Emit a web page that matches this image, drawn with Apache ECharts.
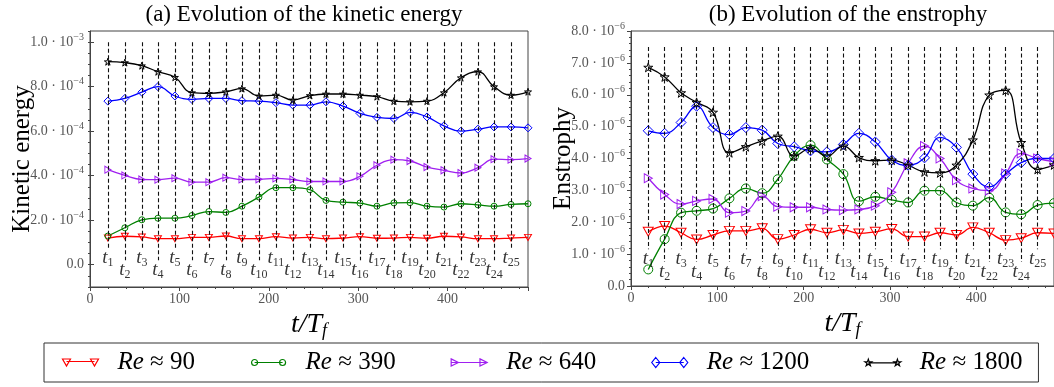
<!DOCTYPE html>
<html>
<head>
<meta charset="utf-8">
<script src="https://cdn.jsdelivr.net/npm/echarts@6/dist/echarts.min.js"></script>
<style>
  html, body { margin: 0; padding: 0; background: #fff; }
  #chart { width: 1054px; height: 387px; }
</style>
</head>
<body>
<div id="chart"></div>
<script>
// sampling instants (t / T_f); the first 25 are the marked snapshots t1..t25
let times = [20, 39, 58, 76, 95, 114, 133, 152, 170, 189, 208, 227, 246, 264, 283, 302, 321, 340, 358, 377, 396, 415, 434, 452, 471, 490];

// (a) kinetic energy
let keRe90 = [1.20e-4, 1.28e-4, 1.25e-4, 1.17e-4, 1.17e-4, 1.23e-4, 1.23e-4, 1.29e-4, 1.17e-4, 1.17e-4, 1.26e-4, 1.20e-4, 1.23e-4, 1.17e-4, 1.20e-4, 1.26e-4, 1.19e-4, 1.20e-4, 1.23e-4, 1.19e-4, 1.28e-4, 1.25e-4, 1.17e-4, 1.17e-4, 1.20e-4, 1.23e-4];
let keRe390 = [1.29e-4, 1.66e-4, 2.02e-4, 2.09e-4, 2.09e-4, 2.21e-4, 2.39e-4, 2.35e-4, 2.63e-4, 3.04e-4, 3.46e-4, 3.46e-4, 3.37e-4, 2.89e-4, 2.81e-4, 2.77e-4, 2.63e-4, 2.78e-4, 2.79e-4, 2.63e-4, 2.59e-4, 2.74e-4, 2.69e-4, 2.63e-4, 2.71e-4, 2.74e-4];
let keRe640 = [4.27e-4, 4.01e-4, 3.83e-4, 3.82e-4, 3.89e-4, 3.71e-4, 3.71e-4, 3.91e-4, 3.83e-4, 3.84e-4, 3.88e-4, 3.83e-4, 3.74e-4, 3.74e-4, 3.74e-4, 3.97e-4, 4.47e-4, 4.72e-4, 4.66e-4, 4.39e-4, 4.24e-4, 4.12e-4, 4.36e-4, 4.74e-4, 4.72e-4, 4.77e-4];
let keRe1200 = [7.35e-4, 7.47e-4, 7.75e-4, 8.00e-4, 7.58e-4, 7.43e-4, 7.47e-4, 7.47e-4, 7.37e-4, 7.35e-4, 7.28e-4, 7.17e-4, 7.17e-4, 7.32e-4, 7.13e-4, 6.80e-4, 6.62e-4, 6.57e-4, 6.84e-4, 6.64e-4, 6.24e-4, 6.00e-4, 6.09e-4, 6.19e-4, 6.19e-4, 6.15e-4];
let keRe1800 = [9.12e-4, 9.08e-4, 8.94e-4, 8.67e-4, 8.42e-4, 7.73e-4, 7.70e-4, 7.77e-4, 7.91e-4, 7.58e-4, 7.62e-4, 7.40e-4, 7.60e-4, 7.67e-4, 7.67e-4, 7.62e-4, 7.55e-4, 7.35e-4, 7.32e-4, 7.35e-4, 7.73e-4, 8.40e-4, 8.67e-4, 8.00e-4, 7.62e-4, 7.77e-4];

// (b) enstrophy
let enRe90 = [1.70e-6, 1.88e-6, 1.67e-6, 1.46e-6, 1.60e-6, 1.73e-6, 1.73e-6, 1.81e-6, 1.47e-6, 1.60e-6, 1.78e-6, 1.67e-6, 1.76e-6, 1.65e-6, 1.70e-6, 1.79e-6, 1.55e-6, 1.55e-6, 1.67e-6, 1.60e-6, 1.84e-6, 1.67e-6, 1.44e-6, 1.50e-6, 1.67e-6, 1.65e-6];
let enRe390 = [0.52e-6, 1.47e-6, 2.30e-6, 2.36e-6, 2.43e-6, 2.75e-6, 3.06e-6, 2.91e-6, 3.35e-6, 4.08e-6, 4.42e-6, 3.97e-6, 3.51e-6, 2.66e-6, 2.80e-6, 2.70e-6, 2.62e-6, 2.99e-6, 2.99e-6, 2.62e-6, 2.52e-6, 2.77e-6, 2.31e-6, 2.25e-6, 2.54e-6, 2.60e-6];
let enRe640 = [3.38e-6, 2.87e-6, 2.57e-6, 2.67e-6, 2.73e-6, 2.30e-6, 2.35e-6, 2.82e-6, 2.49e-6, 2.47e-6, 2.47e-6, 2.40e-6, 2.38e-6, 2.40e-6, 2.52e-6, 2.94e-6, 3.85e-6, 4.39e-6, 4.00e-6, 3.32e-6, 3.06e-6, 2.99e-6, 3.53e-6, 4.16e-6, 4.00e-6, 3.90e-6];
let enRe1200 = [4.87e-6, 4.79e-6, 5.13e-6, 5.64e-6, 4.97e-6, 4.75e-6, 4.97e-6, 4.89e-6, 4.47e-6, 4.37e-6, 4.24e-6, 4.21e-6, 4.44e-6, 4.79e-6, 4.52e-6, 3.95e-6, 3.79e-6, 4.02e-6, 4.66e-6, 4.35e-6, 3.51e-6, 3.11e-6, 3.51e-6, 3.87e-6, 4.00e-6, 4.00e-6];
let enRe1800 = [6.86e-6, 6.56e-6, 6.06e-6, 5.76e-6, 5.45e-6, 4.18e-6, 4.37e-6, 4.55e-6, 4.70e-6, 4.08e-6, 4.32e-6, 4.08e-6, 4.39e-6, 4.03e-6, 3.93e-6, 3.95e-6, 3.79e-6, 3.58e-6, 3.55e-6, 3.79e-6, 4.58e-6, 5.99e-6, 6.14e-6, 4.50e-6, 3.66e-6, 3.80e-6];

let keTicks = [0, 2e-4, 4e-4, 6e-4, 8e-4, 1e-3];

const FONT = "'Liberation Serif', 'DejaVu Serif', serif";
const AX = "#444";

// marker shapes
const TRI_DOWN = "path://M0,0 L10,0 L5,8.66 Z";
const TRI_RIGHT = "path://M0,0 L8.66,5 L0,10 Z";
const STAR = "path://M10,0 L12.245,6.91 L19.51,6.91 L13.63,11.18 L15.88,18.09 L10,13.82 L4.12,18.09 L6.37,11.18 L0.49,6.91 L7.755,6.91 Z";

let curves = [
  { name: "Re ≈ 90", color: "#ff0000", symbol: TRI_DOWN, size: [[7, 6], [10, 9]], ke: keRe90, en: enRe90,
    icon: "path://M0,1 L8,1 L4,8 Z M28,1 L36,1 L32,8 Z M4,3.5 L32,3.5" },
  { name: "Re ≈ 390", color: "#008000", symbol: "circle", size: [6, 9], ke: keRe390, en: enRe390,
    icon: "path://M1,5 A3,3 0 1,0 7,5 A3,3 0 1,0 1,5 Z M29,5 A3,3 0 1,0 35,5 A3,3 0 1,0 29,5 Z M4,5 L32,5 M0,0 M36,10" },
  { name: "Re ≈ 640", color: "#a020f0", symbol: TRI_RIGHT, size: [[6, 7], [8, 9]], ke: keRe640, en: enRe640,
    icon: "path://M0,1 L7,4.5 L0,8 Z M28,1 L35,4.5 L28,8 Z M0,4.5 L35,4.5" },
  { name: "Re ≈ 1200", color: "#0000ff", symbol: "diamond", size: [[8, 8], [10, 10]], ke: keRe1200, en: enRe1200,
    icon: "path://M4,0 L8,5 L4,10 L0,5 Z M32,0 L36,5 L32,10 L28,5 Z M4,5 L32,5" },
  { name: "Re ≈ 1800", color: "#000000", symbol: STAR, size: [7, 9], ke: keRe1800, en: enRe1800,
    icon: "path://M4,1.5 L4.79,3.92 L7.33,3.92 L5.27,5.41 L6.06,7.83 L4,6.34 L1.94,7.83 L2.73,5.41 L0.67,3.92 L3.21,3.92 Z M32,1.5 L32.79,3.92 L35.33,3.92 L33.27,5.41 L34.06,7.83 L32,6.34 L29.94,7.83 L30.73,5.41 L28.67,3.92 L31.21,3.92 Z M4,5 L32,5" },
];

function sciLabel(v) {
  if (Math.abs(v) < 1e-12) return "{m|0.0}";
  let e = Math.floor(Math.log10(Math.abs(v)) + 1e-9);
  let m = v / Math.pow(10, e);
  return "{m|" + m.toFixed(1) + " · 10}{e|−" + Math.abs(e) + "}";
}

const tickRich = {
  m: { fontFamily: FONT, fontSize: 14, color: "#555", lineHeight: 20 },
  e: { fontFamily: FONT, fontSize: 10, color: "#555", lineHeight: 10, verticalAlign: "top" },
};

function xAxis(gridIndex) {
  return {
    type: "value", gridIndex: gridIndex, min: 0, max: 490, interval: 100,
    axisLine: { show: true, onZero: false, lineStyle: { color: AX, width: 1 } },
    axisTick: { show: true, length: 4, lineStyle: { color: AX } },
    minorTick: { show: true, splitNumber: 5, length: 2, lineStyle: { color: AX } },
    axisLabel: { color: "#555", fontFamily: FONT, fontSize: 14, margin: 5, showMaxLabel: false },
    splitLine: { show: false },
    name: "{i|t/T}{s|f}", nameLocation: "middle", nameGap: 19,
    nameTextStyle: {
      rich: {
        i: { fontFamily: FONT, fontStyle: "italic", fontSize: 28, color: "#000", lineHeight: 30 },
        s: { fontFamily: FONT, fontStyle: "italic", fontSize: 18, color: "#000", lineHeight: 17, verticalAlign: "bottom" },
      },
    },
  };
}

// snapshot markers: dashed verticals and t_i labels
function snapshotLines(yTop, yOdd, yEven) {
  let data = [];
  for (let i = 0; i < 25; i++) {
    data.push([{ coord: [times[i], yTop] }, { coord: [times[i], i % 2 === 0 ? yOdd : yEven] }]);
  }
  return data;
}
function snapshotLabels(yOdd, yEven) {
  let data = [];
  for (let i = 0; i < 25; i++) data.push([times[i], i % 2 === 0 ? yOdd : yEven]);
  return data;
}

const labelRich = {
  t: { fontFamily: FONT, fontStyle: "italic", fontSize: 19, color: "#000", lineHeight: 22 },
  s: { fontFamily: FONT, fontSize: 12, color: "#000", lineHeight: 12, verticalAlign: "bottom" },
};

let series = [];
[
  { g: 0, top: 1.0e-3, lineOdd: 0.7e-4, lineEven: 0.2e-4, labOdd: 0.3e-4, labEven: -0.22e-4 },
  { g: 1, top: 7.5e-6, lineOdd: 1.15e-6, lineEven: 0.75e-6, labOdd: 0.85e-6, labEven: 0.45e-6 },
].forEach(function (p) {
  series.push({
    type: "line", xAxisIndex: p.g, yAxisIndex: p.g === 0 ? 0 : 2, data: [], z: 1, silent: true,
    markLine: {
      silent: true, symbol: ["none", "none"], animation: false,
      label: { show: false },
      lineStyle: { color: "#111", type: [4, 2.5], width: 1.1 },
      emphasis: { disabled: true },
      data: snapshotLines(p.top, p.lineOdd, p.lineEven),
    },
  });
  series.push({
    type: "scatter", xAxisIndex: p.g, yAxisIndex: p.g === 0 ? 0 : 2, silent: true, z: 5,
    symbolSize: 1, itemStyle: { color: "rgba(0,0,0,0)" },
    data: snapshotLabels(p.labOdd, p.labEven),
    label: {
      show: true, position: "inside",
      formatter: function (d) { return "{t|t}{s|" + (d.dataIndex + 1) + "}"; },
      rich: labelRich,
    },
  });
});

curves.forEach(function (c) {
  [0, 1].forEach(function (g) {
    let vals = g === 0 ? c.ke : c.en;
    series.push({
      name: c.name, type: "line", xAxisIndex: g, yAxisIndex: g === 0 ? 0 : 2,
      data: times.map(function (t, i) { return [t, vals[i]]; }),
      smooth: 0.45, showAllSymbol: true, z: 3,
      symbol: c.symbol, symbolSize: c.size[g],
      lineStyle: { color: c.color, width: 1.3 },
      itemStyle: { color: "rgba(255,255,255,0)", borderColor: c.color, borderWidth: 1 },
      emphasis: { disabled: true },
    });
  });
});

let option = {
  backgroundColor: "#fff",
  animation: false,
  graphic: [
    { type: "text", style: { text: "(a) Evolution of the kinetic energy", x: 304, y: 3, align: "center", fontFamily: FONT, fontSize: 23, fill: "#000" } },
    { type: "text", style: { text: "(b) Evolution of the enstrophy", x: 848, y: 3, align: "center", fontFamily: FONT, fontSize: 23, fill: "#000" } },
  ],
  grid: [
    { left: 90, top: 31, width: 438, height: 256, show: true, borderColor: AX, borderWidth: 1, backgroundColor: "transparent" },
    { left: 631, top: 31, width: 438, height: 255, show: true, borderColor: AX, borderWidth: 1, backgroundColor: "transparent" },
  ],
  xAxis: [xAxis(0), xAxis(1)],
  yAxis: [
    {
      type: "value", gridIndex: 0, min: -1e-4, max: 1.05e-3, interval: 0.5e-4,
      axisLine: { show: true, onZero: false, lineStyle: { color: AX } },
      axisTick: { show: true, length: 2, lineStyle: { color: AX } },
      axisLabel: {
        margin: 6, rich: tickRich,
        formatter: function (v) {
          let k = v / 2e-4;
          return Math.abs(k - Math.round(k)) < 1e-6 && v > -1e-9 && v < 1.01e-3 ? sciLabel(v) : "";
        },
      },
      splitLine: { show: false },
      name: "Kinetic energy", nameLocation: "middle", nameGap: 55, nameMoveOverlap: false,
      nameTextStyle: { fontFamily: FONT, fontSize: 25, color: "#000" },
    },
    {
      type: "value", gridIndex: 0, min: -1e-4, max: 1.05e-3, interval: 0.5e-4,
      axisLine: { show: false },
      axisTick: { show: true, length: 4, customValues: keTicks, lineStyle: { color: AX } },
      axisLabel: { show: false },
      splitLine: { show: false },
    },
    {
      type: "value", gridIndex: 1, min: 0, max: 8e-6, interval: 1e-6,
      axisLine: { show: true, onZero: false, lineStyle: { color: AX } },
      axisTick: { show: true, length: 4, lineStyle: { color: AX } },
      minorTick: { show: true, splitNumber: 5, length: 2, lineStyle: { color: AX } },
      axisLabel: { margin: 6, rich: tickRich, formatter: sciLabel },
      splitLine: { show: false },
      name: "Enstrophy", nameLocation: "middle", nameGap: 55, nameMoveOverlap: false,
      nameTextStyle: { fontFamily: FONT, fontSize: 25, color: "#000" },
    },
  ],
  legend: {
    left: 44, top: 343, padding: [7, 16], itemGap: 53, itemWidth: 36, itemHeight: 10,
    borderColor: "#333", borderWidth: 1, borderRadius: 0,
    selectedMode: false,
    data: curves.map(function (c) {
      return { name: c.name, icon: c.icon, itemStyle: { color: "none", borderColor: c.color, borderWidth: 1.2 } };
    }),
    formatter: function (n) { return "{i|Re}{n| ≈ " + n.split("≈ ")[1] + "}"; },
    textStyle: {
      rich: {
        i: { fontFamily: FONT, fontStyle: "italic", fontSize: 25, color: "#000", padding: [0, 0, 0, 14] },
        n: { fontFamily: FONT, fontSize: 25, color: "#000" },
      },
    },
  },
  series: series,
};

let chart = echarts.init(document.getElementById("chart"));
chart.setOption(option);
</script>
</body>
</html>
